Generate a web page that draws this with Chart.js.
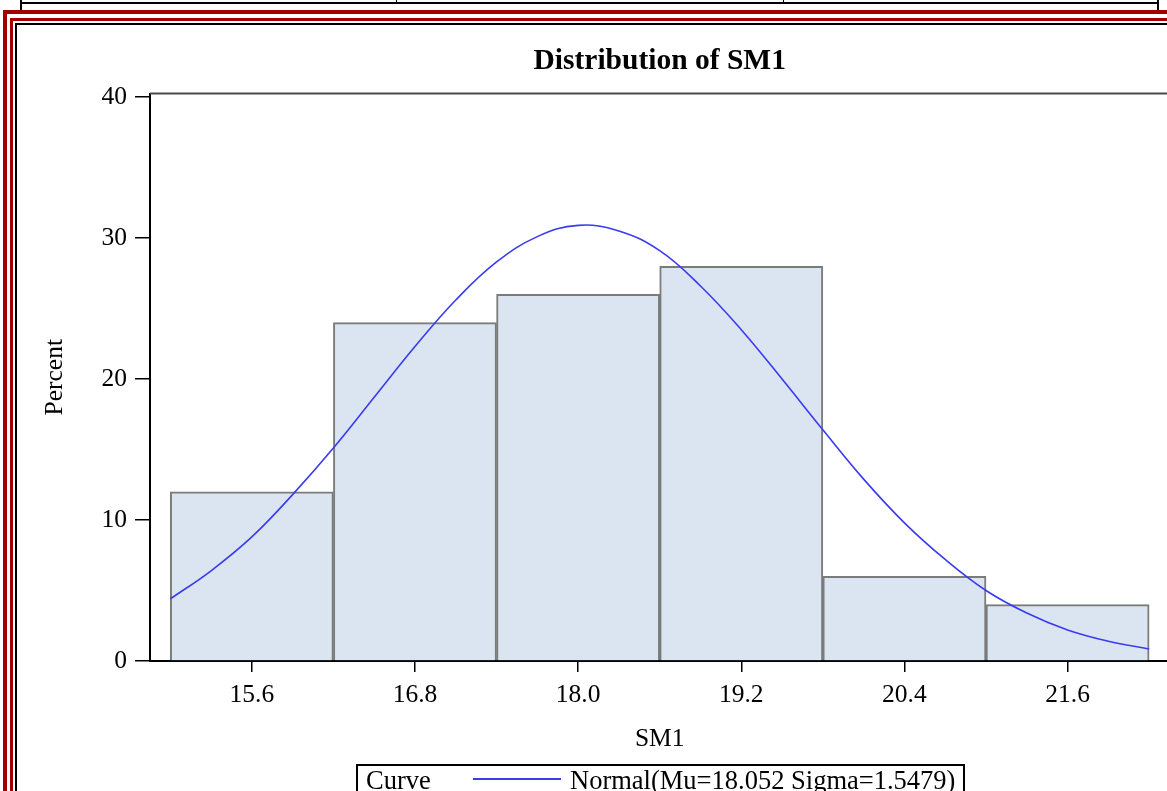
<!DOCTYPE html>
<html>
<head>
<meta charset="utf-8">
<title>Distribution of SM1</title>
<script src="https://cdn.jsdelivr.net/npm/chart.js@4.4.0/dist/chart.umd.min.js"></script>
<style>
    html, body { margin: 0; padding: 0; width: 1167px; height: 791px; overflow: hidden; background: #fff; }
    .ln { position: absolute; background: #000; }
    .red { position: absolute; background: #a00000; }
    #histChart { position: absolute; left: 0; top: 0; z-index: 2; }
    #legendBox {
        position: absolute; left: 356px; top: 764px; width: 609px; height: 40px;
        border: 2px solid #000; box-sizing: border-box; z-index: 3;
        font-family: "Liberation Serif", serif; font-size: 26.5px; color: #000;
    }
    #legendBox span { position: absolute; top: 0px; line-height: 28px; white-space: nowrap; }
    #legendBox .sw { top: 12px; height: 1.5px; width: 88px; background: #3a3af0; }
</style>
</head>
<body>
<!-- bit of the table above the graph -->
<div class="ln" style="left:20px;top:0;width:2px;height:10px"></div>
<div class="ln" style="left:1157px;top:0;width:2px;height:10px"></div>
<div class="ln" style="left:20px;top:2px;width:1139px;height:1.5px"></div>
<div class="ln" style="left:396px;top:0;width:1px;height:3px"></div>
<div class="ln" style="left:783px;top:0;width:1px;height:3px"></div>

<!-- red double frame -->
<div class="red" style="left:3px;top:10px;width:1200px;height:4px"></div>
<div class="red" style="left:3px;top:10px;width:4px;height:800px"></div>
<div class="red" style="left:10px;top:18px;width:1200px;height:3px"></div>
<div class="red" style="left:10px;top:18px;width:3px;height:800px"></div>
<div class="ln" style="left:15px;top:23px;width:1200px;height:1.5px"></div>
<div class="ln" style="left:15px;top:23px;width:1.5px;height:800px"></div>

<canvas id="histChart" width="1190" height="791"></canvas>

<div id="legendBox">
    <span style="left:8px">Curve</span>
    <span class="sw" style="left:115px"></span>
    <span style="left:212px">Normal(Mu=18.052 Sigma=1.5479)</span>
</div>

<script>
// histogram bins (midpoints) and percent per bin
var binMids = [15.6, 16.8, 18.0, 19.2, 20.4, 21.6];
var binPercents = [12, 24, 26, 28, 6, 4];

// fitted normal curve
var curveX = [15.0, 15.3, 15.6, 15.9, 16.2, 16.5, 16.8, 17.1, 17.4, 17.7, 18.0, 18.3, 18.6,
              18.9, 19.2, 19.5, 19.8, 20.1, 20.4, 20.7, 21.0, 21.3, 21.6, 21.9, 22.2];
var curvePercent = [4.4, 6.4, 8.8, 11.8, 15.1, 18.7, 22.3, 25.6, 28.3, 30.1, 30.9, 30.5, 29.1,
                    26.6, 23.5, 20.0, 16.4, 12.9, 9.8, 7.2, 5.0, 3.4, 2.2, 1.4, 0.85];

var xTickLabels = [15.6, 16.8, 18.0, 19.2, 20.4, 21.6];
var yTickLabels = [0, 10, 20, 30, 40];

var serif = "'Liberation Serif', 'Times New Roman', serif";
Chart.defaults.font.family = serif;
Chart.defaults.color = '#000';

function toPoints(xs, ys) {
    var pts = [];
    for (var i = 0; i < xs.length; i++) {
        pts.push({ x: xs[i], y: ys[i] });
    }
    return pts;
}

// top and right edge of the plot box
var plotFrame = {
    id: 'plotFrame',
    afterDatasetsDraw: function (chart) {
        var a = chart.chartArea;
        var ctx = chart.ctx;
        ctx.save();
        ctx.strokeStyle = '#4a4a4a';
        ctx.lineWidth = 2;
        ctx.beginPath();
        ctx.moveTo(a.left, a.top);
        ctx.lineTo(a.right, a.top);
        ctx.lineTo(a.right, a.bottom);
        ctx.stroke();
        ctx.restore();
    }
};

var ctx = document.getElementById('histChart');
var histChart = new Chart(ctx, {
    type: 'bar',
    data: {
        datasets: [
            {
                type: 'line',
                label: 'Normal(Mu=18.052 Sigma=1.5479)',
                data: toPoints(curveX, curvePercent),
                borderColor: '#3a3af0',
                borderWidth: 1.6,
                pointRadius: 0,
                tension: 0.4,
                fill: false,
                order: 0
            },
            {
                type: 'bar',
                label: 'Percent',
                data: toPoints(binMids, binPercents),
                backgroundColor: '#dbe5f1',
                borderColor: '#7b7b7b',
                borderWidth: 2,
                categoryPercentage: 1.0,
                barPercentage: 1.0,
                order: 1
            }
        ]
    },
    options: {
        responsive: false,
        animation: false,
        layout: { padding: { left: 0, right: 20.6, top: 0, bottom: 0 } },
        plugins: {
            legend: { display: false },
            tooltip: { enabled: false },
            title: {
                display: true,
                text: 'Distribution of SM1',
                fullSize: false,
                font: { family: serif, size: 29.5, weight: 'bold' },
                padding: { top: 43.3, bottom: 14.8 }
            }
        },
        scales: {
            x: {
                type: 'linear',
                min: 14.851,
                max: 22.349,
                offset: false,
                grid: { display: true, drawOnChartArea: false, drawTicks: true, tickLength: 11, color: '#000', lineWidth: 1.5, offset: false },
                border: { display: true, color: '#000', width: 2 },
                afterBuildTicks: function (scale) {
                    scale.ticks = xTickLabels.map(function (v) { return { value: v }; });
                },
                afterFit: function (scale) { scale.height = 130; },
                ticks: {
                    font: { size: 25.5 },
                    padding: 8,
                    maxRotation: 0,
                    autoSkip: false,
                    callback: function (v) { return Number(v).toFixed(1); }
                },
                title: { display: true, text: 'SM1', font: { size: 25.5 }, padding: { top: 0, bottom: 36 } }
            },
            y: {
                min: 0,
                max: 40.25,
                grid: { display: true, drawOnChartArea: false, drawTicks: true, tickLength: 15, color: '#000', lineWidth: 1.5 },
                border: { display: true, color: '#000', width: 2 },
                afterBuildTicks: function (scale) {
                    scale.ticks = yTickLabels.map(function (v) { return { value: v }; });
                },
                afterFit: function (scale) { scale.width = 150; },
                ticks: { font: { size: 25.5 }, padding: 8 },
                title: { display: true, text: 'Percent', font: { size: 25.5 }, padding: { top: 40, bottom: 0 } }
            }
        }
    },
    plugins: [plotFrame]
});
</script>
</body>
</html>
